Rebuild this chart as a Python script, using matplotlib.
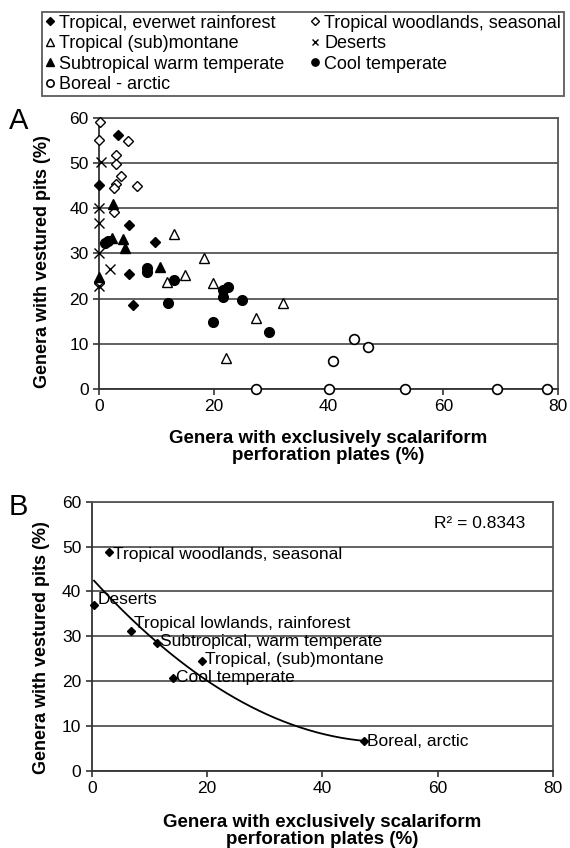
import numpy as np
import matplotlib
matplotlib.use("Agg")
import matplotlib.pyplot as plt

plt.rcParams['font.family'] = ['Liberation Sans', 'DejaVu Sans']

# ---- panel A data (x: scalariform %, y: vestured pits %)
everwet_x = [3.3, 0.0, 5.2, 9.7, 5.2, 5.9]
everwet_y = [56.2, 45.1, 36.2, 32.5, 25.5, 18.5]

woodland_x = [0.1, 0.0, 5.0, 2.9, 2.9, 3.8, 3.0, 2.6, 6.7, 2.6, 0.0]
woodland_y = [59.1, 55.2, 54.8, 51.9, 49.9, 47.1, 45.4, 44.6, 44.9, 39.1, 23.5]

montane_x = [13.0, 18.3, 11.9, 14.9, 19.9, 32.0, 27.3, 22.2]
montane_y = [34.4, 29.0, 23.6, 25.3, 23.4, 19.0, 15.8, 6.8]

desert_x = [0.4, 0.0, 0.0, 0.0, 1.9, 0.0]
desert_y = [50.2, 40.1, 36.8, 30.1, 26.6, 22.7]

subtrop_x = [2.4, 2.2, 4.1, 4.5, 10.7, 0.0]
subtrop_y = [41.0, 33.5, 33.3, 31.2, 27.1, 24.8]

cool_x = [1.0, 1.6, 8.4, 8.4, 13.1, 12.0, 19.9, 21.6, 22.5, 21.6, 24.9, 29.7]
cool_y = [32.3, 32.7, 26.8, 25.8, 24.2, 19.0, 14.9, 22.0, 22.5, 20.4, 19.6, 12.6]

boreal_x = [27.3, 40.0, 40.8, 44.4, 46.8, 53.3, 69.3, 78.0]
boreal_y = [0.0, 0.0, 6.1, 11.0, 9.3, 0.0, 0.0, 0.0]

# ---- panel B data (means per biome)
biome_names = ["Tropical woodlands, seasonal", "Deserts", "Tropical lowlands, rainforest",
               "Subtropical, warm temperate", "Tropical, (sub)montane", "Cool temperate",
               "Boreal, arctic"]
biome_x = [3.05, 0.4, 6.8, 11.3, 19.1, 14.1, 47.2]
biome_y = [48.8, 36.9, 31.1, 28.5, 24.5, 20.8, 6.6]

xticks = [0, 20, 40, 60, 80]
yticks = [0, 10, 20, 30, 40, 50, 60]
xlabel = "Genera with exclusively scalariform\nperforation plates (%)"
ylabel = "Genera with vestured pits (%)"

fig = plt.figure(figsize=(5.7, 8.48), dpi=100)


def style_axes(ax):
    ax.set_xlim(0, 80)
    ax.set_ylim(0, 60)
    ax.set_xticks(xticks)
    ax.set_yticks(yticks)
    ax.yaxis.grid(True, color='#555555', lw=1.3)
    ax.set_axisbelow(True)
    for s in ['top', 'right']:
        ax.spines[s].set_color('#555555')
        ax.spines[s].set_linewidth(1.3)
    for s in ['left', 'bottom']:
        ax.spines[s].set_color('#333333')
        ax.spines[s].set_linewidth(1.3)
    ax.tick_params(direction='out', length=4, width=1.2, labelsize=12.5, color='#333333')
    ax.set_xlabel(xlabel, fontsize=13.5, fontweight='bold', linespacing=1.0)
    ax.set_ylabel(ylabel, fontsize=13, fontweight='bold')


# ---------------- panel A
axA = fig.add_axes([0.1737, 0.5413, 0.8053, 0.3196])
style_axes(axA)
kw = dict(ls='none', clip_on=False, zorder=3)
h1, = axA.plot(everwet_x, everwet_y, marker='D', ms=5, color='black', **kw)
h2, = axA.plot(woodland_x, woodland_y, marker='D', ms=5, mfc='white', mec='black', mew=1.0, **kw)
h3, = axA.plot(montane_x, montane_y, marker='^', ms=7.5, mfc='white', mec='black', mew=1.0, **kw)
h4, = axA.plot(desert_x, desert_y, marker='x', ms=6.5, color='black', mew=1.0, **kw)
h5, = axA.plot(subtrop_x, subtrop_y, marker='^', ms=7.5, color='black', **kw)
h6, = axA.plot(cool_x, cool_y, marker='o', ms=7, color='black', **kw)
h7, = axA.plot(boreal_x, boreal_y, marker='o', ms=7, mfc='white', mec='black', mew=1.2, **kw)
axA.xaxis.set_label_coords(0.5, -0.15)
axA.yaxis.set_label_coords(-0.105, 0.47)

handles = [h1, h3, h5, h7, h2, h4, h6]
labels = ["Tropical, everwet rainforest", "Tropical (sub)montane", "Subtropical warm temperate",
          "Boreal - arctic", "Tropical woodlands, seasonal", "Deserts", "Cool temperate"]
leg = fig.legend(handles, labels, loc='upper left', bbox_to_anchor=(0.074, 0.986), ncol=2,
                 fontsize=13, frameon=True, fancybox=False, edgecolor='#333333',
                 handlelength=0.6, handletextpad=0.2, columnspacing=1.4, borderpad=0.15,
                 labelspacing=0.2, borderaxespad=0, markerscale=0.75)
leg.get_frame().set_linewidth(1.3)

fig.text(0.015, 0.857, "A", fontsize=21, va='center', ha='left')

# ---------------- panel B
axB = fig.add_axes([0.1609, 0.0908, 0.8093, 0.3176])
style_axes(axB)
axB.plot(biome_x, biome_y, ls='none', marker='D', ms=4.5, color='black', zorder=3, clip_on=False)
label_dy = [-0.6, 1.2, 1.8, 0.3, 0.3, 0.0, 0.0]
for name, x, y, dy in zip(biome_names, biome_x, biome_y, label_dy):
    axB.text(x + 0.6, y + dy, name, fontsize=12.5, va='center', ha='left', zorder=4)

coef = np.polyfit(biome_x, biome_y, 2)
xs = np.linspace(min(biome_x), max(biome_x), 200)
axB.plot(xs, np.polyval(coef, xs), color='black', lw=1.3, zorder=2)
axB.text(0.94, 0.92, "R\u00b2 = 0.8343", transform=axB.transAxes, fontsize=12.5,
         ha='right', va='center')
axB.xaxis.set_label_coords(0.5, -0.16)
axB.yaxis.set_label_coords(-0.09, 0.46)

fig.text(0.015, 0.402, "B", fontsize=21, va='center', ha='left')

fig.savefig("out.png", dpi=100)
